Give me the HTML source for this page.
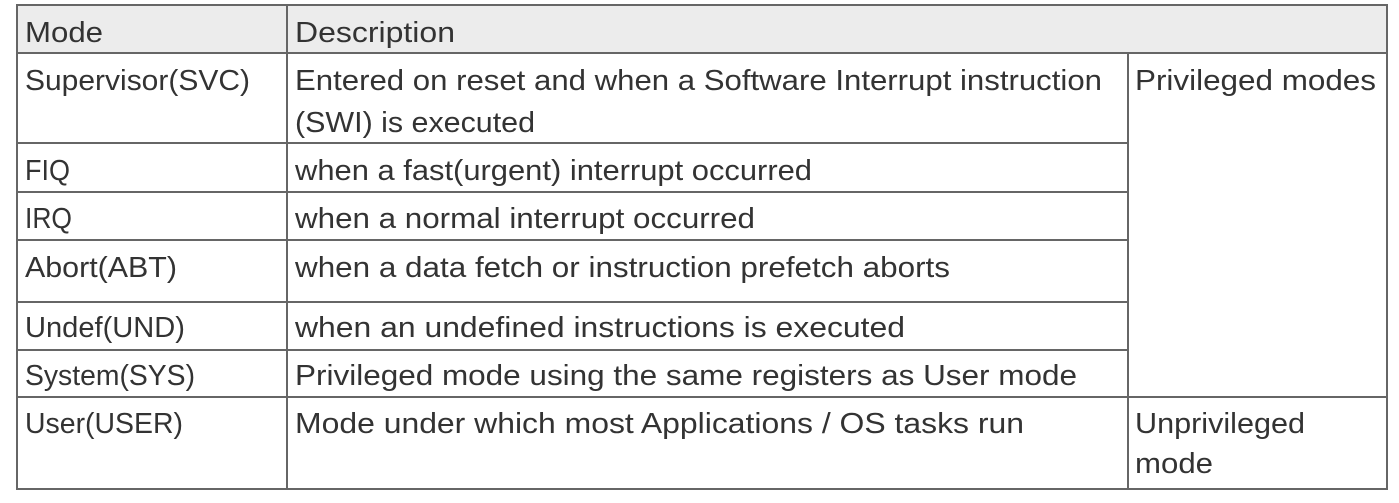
<!DOCTYPE html>
<html><head><meta charset="utf-8"><style>
html,body{margin:0;padding:0;background:#fff;width:1399px;height:503px;overflow:hidden}
text{font-family:"Liberation Sans",sans-serif;font-size:29px;fill:#333}
</style></head><body>
<svg width="1399" height="503" viewBox="0 0 1399 503" xmlns="http://www.w3.org/2000/svg">
<rect x="17" y="5" width="1370" height="48" fill="#ececec"/>
<g stroke="#666" stroke-width="2" fill="none">
<rect x="17" y="5" width="1370" height="484"/>
<line x1="17" y1="53" x2="1387" y2="53"/>
<line x1="287" y1="5" x2="287" y2="489"/>
<line x1="1128" y1="53" x2="1128" y2="489"/>
<line x1="17" y1="143" x2="1128" y2="143"/>
<line x1="17" y1="192" x2="1128" y2="192"/>
<line x1="17" y1="240" x2="1128" y2="240"/>
<line x1="17" y1="302" x2="1128" y2="302"/>
<line x1="17" y1="350" x2="1128" y2="350"/>
<line x1="17" y1="397" x2="1387" y2="397"/>
</g>
<text x="25" y="42" textLength="78" lengthAdjust="spacingAndGlyphs">Mode</text>
<text x="295" y="42" textLength="160" lengthAdjust="spacingAndGlyphs">Description</text>
<text x="25" y="90" textLength="225" lengthAdjust="spacingAndGlyphs">Supervisor(SVC)</text>
<text x="295" y="90" textLength="807" lengthAdjust="spacingAndGlyphs">Entered on reset and when a Software Interrupt instruction</text>
<text x="295" y="132" textLength="240" lengthAdjust="spacingAndGlyphs">(SWI) is executed</text>
<text x="1135" y="90" textLength="241" lengthAdjust="spacingAndGlyphs">Privileged modes</text>
<text x="25" y="180" textLength="45" lengthAdjust="spacingAndGlyphs">FIQ</text>
<text x="295" y="180" textLength="517" lengthAdjust="spacingAndGlyphs">when a fast(urgent) interrupt occurred</text>
<text x="25" y="228" textLength="47" lengthAdjust="spacingAndGlyphs">IRQ</text>
<text x="295" y="228" textLength="460" lengthAdjust="spacingAndGlyphs">when a normal interrupt occurred</text>
<text x="25" y="277" textLength="152" lengthAdjust="spacingAndGlyphs">Abort(ABT)</text>
<text x="295" y="277" textLength="655" lengthAdjust="spacingAndGlyphs">when a data fetch or instruction prefetch aborts</text>
<text x="25" y="337" textLength="160" lengthAdjust="spacingAndGlyphs">Undef(UND)</text>
<text x="295" y="337" textLength="610" lengthAdjust="spacingAndGlyphs">when an undefined instructions is executed</text>
<text x="25" y="385" textLength="170" lengthAdjust="spacingAndGlyphs">System(SYS)</text>
<text x="295" y="385" textLength="782" lengthAdjust="spacingAndGlyphs">Privileged mode using the same registers as User mode</text>
<text x="25" y="433" textLength="158" lengthAdjust="spacingAndGlyphs">User(USER)</text>
<text x="295" y="433" textLength="729" lengthAdjust="spacingAndGlyphs">Mode under which most Applications / OS tasks run</text>
<text x="1135" y="433" textLength="170" lengthAdjust="spacingAndGlyphs">Unprivileged</text>
<text x="1135" y="473" textLength="78" lengthAdjust="spacingAndGlyphs">mode</text>
</svg>
</body></html>
